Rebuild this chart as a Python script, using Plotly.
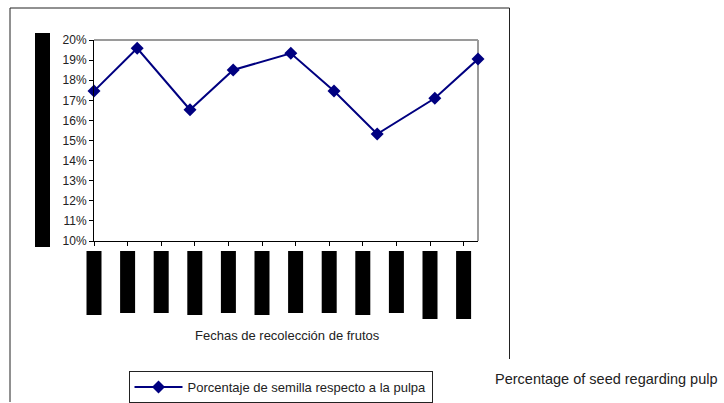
import plotly.graph_objects as go

# Días transcurridos desde la primera recolección de frutos
dias_recoleccion = [0, 9, 20, 29, 41, 50, 59, 71, 80]
# Porcentaje de semilla respecto a la pulpa en cada recolección
porcentaje_semilla = [0.1746, 0.1959, 0.1653, 0.1851, 0.1934, 0.1746, 0.1532, 0.1710, 0.1905]

serie_nombre = "Porcentaje de semilla respecto a la pulpa"
titulo_x = "Fechas de recolección de frutos"
nota_derecha = "Percentage of seed regarding pulp"

# Semanas marcadas en el eje de fechas
marcas_x = list(range(0, 78, 7))
rango_x = [0, 80]

W, H = 724, 403
L, R, T, B = 94, 478, 40, 241  # área de trazado en píxeles


def px_x(x):
    return (x - L) / (R - L)


def px_y(y):
    return (B - y) / (B - T)


FONT = "Liberation Sans, Arial, sans-serif"

fig = go.Figure()
fig.add_trace(go.Scatter(
    x=dias_recoleccion,
    y=porcentaje_semilla,
    mode="lines+markers",
    name=serie_nombre,
    line=dict(color="#000080", width=2),
    marker=dict(symbol="diamond", size=10, color="#000080"),
    cliponaxis=False,
))

shapes = []
# bordes gris del área de trazado (superior y derecho)
shapes.append(dict(type="line", xref="paper", yref="paper", x0=0, x1=1, y0=1, y1=1,
                   line=dict(color="#9a9a9a", width=2), layer="below"))
shapes.append(dict(type="line", xref="paper", yref="paper", x0=1, x1=1, y0=0, y1=1,
                   line=dict(color="#9a9a9a", width=2), layer="below"))

# marco exterior del gráfico
frame = dict(color="#222222", width=1)
shapes.append(dict(type="line", xref="paper", yref="paper",
                   x0=px_x(10), x1=px_x(10), y0=px_y(8), y1=px_y(402), line=frame))
shapes.append(dict(type="line", xref="paper", yref="paper",
                   x0=px_x(10), x1=px_x(509.5), y0=px_y(8), y1=px_y(8), line=frame))
shapes.append(dict(type="line", xref="paper", yref="paper",
                   x0=px_x(509.5), x1=px_x(509.5), y0=px_y(8), y1=px_y(359), line=frame))

# título del eje vertical cubierto por un bloque negro
shapes.append(dict(type="rect", xref="paper", yref="paper",
                   x0=px_x(35), x1=px_x(50), y0=px_y(33), y1=px_y(247),
                   fillcolor="black", line=dict(width=0)))

# etiquetas de fecha cubiertas por bloques negros, una por marca del eje
profundidad = [74, 72, 72, 74, 72, 74, 72, 72, 74, 72, 78, 78]
for d, p in zip(marcas_x, profundidad):
    xa = (d - rango_x[0]) / (rango_x[1] - rango_x[0])
    shapes.append(dict(type="rect", xref="paper", yref="paper",
                       xsizemode="pixel", xanchor=xa, x0=-7.5, x1=7.5,
                       ysizemode="pixel", yanchor=0, y0=-10, y1=-p,
                       fillcolor="black", line=dict(width=0)))

annotations = [
    dict(text=titulo_x, xref="paper", yref="paper", x=px_x(287), y=px_y(335),
         xanchor="center", yanchor="middle", showarrow=False,
         font=dict(family=FONT, size=13, color="#222222")),
    dict(text=nota_derecha, xref="paper", yref="paper", x=px_x(492.5), y=px_y(378.5),
         xanchor="left", yanchor="middle", showarrow=False,
         font=dict(family=FONT, size=14.5, color="#222222")),
]

fig.update_layout(
    width=W, height=H,
    margin=dict(l=L, r=W - R, t=T, b=H - B, pad=0, autoexpand=False),
    paper_bgcolor="white", plot_bgcolor="white",
    font=dict(family=FONT, size=12, color="#222222"),
    shapes=shapes,
    annotations=annotations,
    showlegend=True,
    legend=dict(
        x=px_x(128.5), y=px_y(371), xanchor="left", yanchor="top",
        bordercolor="#222222", borderwidth=1, bgcolor="white",
        font=dict(family=FONT, size=13, color="#222222"),
        itemwidth=48,
    ),
    xaxis=dict(
        range=rango_x, tickvals=marcas_x, showticklabels=False,
        ticks="outside", ticklen=4, tickcolor="black",
        showline=True, linecolor="black", linewidth=1,
        showgrid=False, zeroline=False, fixedrange=True,
    ),
    yaxis=dict(
        range=[0.10, 0.20], dtick=0.01, tick0=0.10, tickformat=".0%",
        ticks="outside", ticklen=4, tickcolor="black",
        showline=True, linecolor="black", linewidth=1,
        showgrid=False, zeroline=False, fixedrange=True,
        tickfont=dict(family=FONT, size=12, color="#222222"),
    ),
)

fig.write_html("out.html")
